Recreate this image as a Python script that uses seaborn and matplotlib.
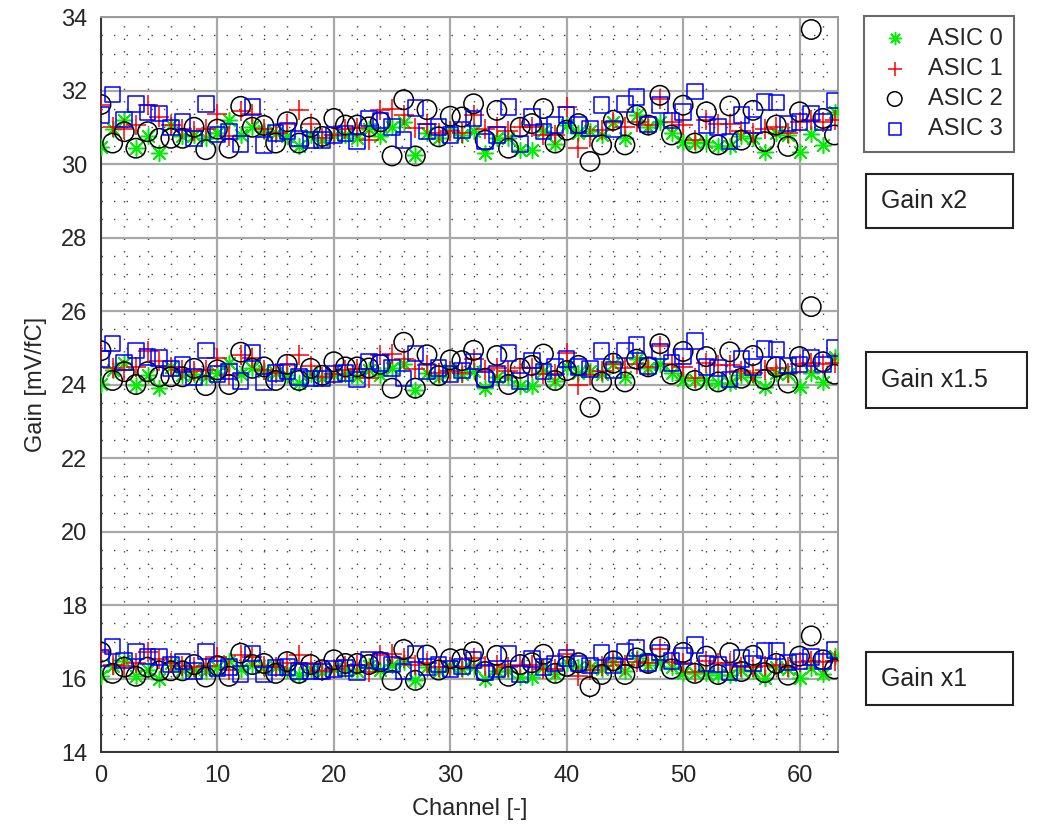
import matplotlib
matplotlib.use("Agg")
import numpy as np
import pandas as pd
import seaborn as sns
import matplotlib.pyplot as plt
from matplotlib.patches import Rectangle
from matplotlib.ticker import MultipleLocator

channels = list(range(64))
asic_names = ["ASIC 0", "ASIC 1", "ASIC 2", "ASIC 3"]
gain_labels = ["Gain x2", "Gain x1.5", "Gain x1"]

# ---- Gain x2 ----
x2_asic0 = [30.45, 30.95, 31.20, 30.43, 30.75, 30.30, 31.05, 30.75, 30.80, 30.70,
            30.85, 31.20, 30.80, 31.00, 30.90, 30.85, 30.75, 30.50, 30.80, 30.65,
            30.78, 30.80, 30.70, 30.95, 30.75, 31.00, 31.15, 30.25, 30.85, 30.70,
            30.95, 30.80, 30.90, 30.30, 30.70, 30.70, 30.39, 30.39, 30.90, 30.55,
            31.06, 30.85, 30.90, 30.80, 31.15, 30.70, 31.33, 31.00, 31.15, 30.85,
            30.60, 30.57, 30.60, 30.48, 30.48, 30.75, 30.70, 30.34, 30.85, 30.80,
            30.34, 30.83, 30.52, 31.42]
x2_asic1 = [31.60, 31.00, 30.95, 31.05, 31.60, 31.28, 31.06, 30.95, 30.90, 30.95,
            31.37, 30.75, 31.45, 31.37, 30.95, 30.85, 31.10, 31.46, 31.08, 30.70,
            30.80, 30.95, 30.97, 30.65, 31.46, 31.51, 31.33, 30.98, 31.10, 30.85,
            30.90, 30.85, 31.33, 30.95, 31.00, 30.90, 31.00, 31.00, 30.80, 30.80,
            31.55, 30.43, 30.75, 30.92, 31.15, 31.00, 31.15, 31.06, 31.78, 31.15,
            31.06, 30.65, 31.20, 31.10, 31.10, 30.90, 30.85, 30.95, 31.00, 30.85,
            31.15, 31.20, 31.15, 31.19]
x2_asic2 = [31.62, 30.57, 30.88, 30.43, 30.88, 30.70, 30.70, 30.70, 31.00, 30.39,
            30.95, 30.43, 31.57, 31.00, 31.05, 30.57, 31.15, 30.57, 31.00, 30.75,
            31.24, 31.06, 31.06, 31.01, 31.15, 30.22, 31.75, 30.22, 31.48, 30.74,
            31.30, 31.28, 31.64, 30.65, 31.46, 30.43, 31.00, 31.10, 31.51, 30.57,
            30.92, 31.10, 30.07, 30.52, 31.19, 30.52, 31.33, 31.06, 31.87, 30.79,
            31.60, 30.57, 31.42, 30.52, 31.58, 30.65, 31.46, 30.61, 31.06, 30.48,
            31.42, 33.66, 31.24, 30.79]
x2_asic3 = [31.33, 31.89, 31.21, 31.64, 31.40, 31.37, 31.00, 31.15, 30.70, 31.64,
            30.80, 30.88, 30.55, 31.55, 30.52, 30.85, 30.90, 30.70, 30.65, 30.65,
            30.79, 30.83, 30.61, 31.24, 31.19, 31.01, 30.65, 31.53, 30.88, 31.01,
            30.79, 30.92, 31.24, 30.61, 30.79, 31.55, 30.55, 31.28, 30.88, 31.06,
            31.33, 31.06, 30.97, 31.61, 30.95, 31.64, 31.82, 31.08, 31.60, 31.19,
            31.42, 31.97, 31.06, 31.01, 30.61, 31.33, 31.06, 31.69, 31.67, 31.10,
            31.15, 31.37, 31.15, 31.73]

# ---- Gain x1.5 ----
x15_asic0 = [24.02, 24.40, 24.59, 24.00, 24.25, 23.90, 24.48, 24.25, 24.28, 24.21,
             24.32, 24.59, 24.28, 24.44, 24.36, 24.32, 24.25, 24.05, 24.28, 24.17,
             24.27, 24.28, 24.21, 24.40, 24.25, 24.44, 24.55, 23.86, 24.32, 24.21,
             24.40, 24.28, 24.36, 23.90, 24.21, 24.21, 23.97, 23.97, 24.36, 24.09,
             24.48, 24.32, 24.36, 24.28, 24.55, 24.21, 24.69, 24.44, 24.55, 24.32,
             24.13, 24.11, 24.13, 24.04, 24.04, 24.25, 24.21, 23.93, 24.32, 24.28,
             23.93, 24.31, 24.07, 24.76]
x15_asic1 = [24.90, 24.44, 24.40, 24.48, 24.90, 24.65, 24.48, 24.40, 24.36, 24.40,
             24.72, 24.25, 24.79, 24.72, 24.40, 24.32, 24.52, 24.79, 24.50, 24.21,
             24.28, 24.40, 24.42, 24.17, 24.79, 24.83, 24.69, 24.42, 24.52, 24.32,
             24.36, 24.32, 24.69, 24.40, 24.44, 24.36, 24.44, 24.44, 24.28, 24.28,
             24.86, 24.00, 24.25, 24.38, 24.55, 24.44, 24.55, 24.48, 25.04, 24.55,
             24.48, 24.17, 24.59, 24.52, 24.52, 24.36, 24.32, 24.40, 24.44, 24.32,
             24.55, 24.59, 24.55, 24.58]
x15_asic2 = [24.92, 24.11, 24.35, 24.00, 24.35, 24.21, 24.21, 24.21, 24.44, 23.97,
             24.40, 24.00, 24.88, 24.44, 24.48, 24.11, 24.55, 24.11, 24.44, 24.25,
             24.62, 24.48, 24.48, 24.45, 24.55, 23.90, 25.15, 23.90, 24.81, 24.24,
             24.67, 24.65, 24.93, 24.17, 24.79, 24.00, 24.44, 24.52, 24.83, 24.11,
             24.38, 24.52, 23.38, 24.07, 24.58, 24.07, 24.69, 24.48, 25.11, 24.28,
             24.90, 24.11, 24.76, 24.07, 24.89, 24.17, 24.79, 24.14, 24.48, 24.04,
             24.76, 26.12, 24.62, 24.28]
x15_asic3 = [24.69, 25.12, 24.60, 24.93, 24.75, 24.72, 24.44, 24.55, 24.21, 24.93,
             24.28, 24.35, 24.09, 24.86, 24.07, 24.32, 24.36, 24.21, 24.17, 24.17,
             24.28, 24.31, 24.14, 24.62, 24.58, 24.45, 24.17, 24.85, 24.35, 24.45,
             24.28, 24.38, 24.62, 24.14, 24.28, 24.86, 24.09, 24.65, 24.35, 24.48,
             24.69, 24.48, 24.42, 24.91, 24.40, 24.93, 25.07, 24.50, 24.90, 24.58,
             24.76, 25.19, 24.48, 24.45, 24.14, 24.69, 24.48, 24.97, 24.95, 24.52,
             24.55, 24.72, 24.55, 25.00]

# ---- Gain x1 ----
x1_asic0 = [16.08, 16.35, 16.49, 16.06, 16.24, 15.99, 16.41, 16.24, 16.27, 16.21,
            16.30, 16.49, 16.27, 16.38, 16.32, 16.30, 16.24, 16.10, 16.27, 16.19,
            16.26, 16.27, 16.21, 16.35, 16.24, 16.38, 16.46, 15.97, 16.30, 16.21,
            16.35, 16.27, 16.32, 15.99, 16.21, 16.21, 16.04, 16.04, 16.32, 16.13,
            16.41, 16.30, 16.32, 16.27, 16.46, 16.21, 16.56, 16.38, 16.46, 16.30,
            16.16, 16.14, 16.16, 16.09, 16.09, 16.24, 16.21, 16.01, 16.30, 16.27,
            16.01, 16.28, 16.11, 16.61]
x1_asic1 = [16.71, 16.38, 16.35, 16.41, 16.71, 16.53, 16.41, 16.35, 16.32, 16.35,
            16.58, 16.24, 16.63, 16.58, 16.35, 16.30, 16.43, 16.63, 16.42, 16.21,
            16.27, 16.35, 16.36, 16.19, 16.63, 16.66, 16.56, 16.37, 16.43, 16.30,
            16.32, 16.30, 16.56, 16.35, 16.38, 16.32, 16.38, 16.38, 16.27, 16.27,
            16.68, 16.06, 16.24, 16.33, 16.46, 16.38, 16.46, 16.41, 16.81, 16.46,
            16.41, 16.19, 16.49, 16.43, 16.43, 16.32, 16.30, 16.35, 16.38, 16.30,
            16.46, 16.49, 16.46, 16.48]
x1_asic2 = [16.72, 16.14, 16.31, 16.06, 16.31, 16.21, 16.21, 16.21, 16.38, 16.04,
            16.35, 16.06, 16.69, 16.38, 16.41, 16.14, 16.46, 16.14, 16.38, 16.24,
            16.51, 16.41, 16.41, 16.38, 16.46, 15.95, 16.79, 15.95, 16.64, 16.23,
            16.54, 16.53, 16.73, 16.19, 16.63, 16.06, 16.38, 16.43, 16.66, 16.14,
            16.33, 16.43, 15.78, 16.11, 16.48, 16.11, 16.56, 16.41, 16.86, 16.26,
            16.71, 16.14, 16.61, 16.11, 16.70, 16.19, 16.63, 16.16, 16.41, 16.09,
            16.61, 17.16, 16.51, 16.26]
x1_asic3 = [16.56, 16.87, 16.49, 16.73, 16.60, 16.58, 16.38, 16.46, 16.21, 16.73,
            16.27, 16.31, 16.13, 16.68, 16.11, 16.30, 16.32, 16.21, 16.19, 16.19,
            16.26, 16.28, 16.16, 16.51, 16.48, 16.38, 16.19, 16.67, 16.31, 16.38,
            16.26, 16.33, 16.51, 16.16, 16.26, 16.68, 16.13, 16.53, 16.31, 16.41,
            16.56, 16.41, 16.36, 16.71, 16.35, 16.73, 16.83, 16.42, 16.71, 16.48,
            16.61, 16.91, 16.41, 16.38, 16.16, 16.56, 16.41, 16.76, 16.75, 16.43,
            16.46, 16.58, 16.46, 16.78]

series = {
    "ASIC 0": [x2_asic0, x15_asic0, x1_asic0],
    "ASIC 1": [x2_asic1, x15_asic1, x1_asic1],
    "ASIC 2": [x2_asic2, x15_asic2, x1_asic2],
    "ASIC 3": [x2_asic3, x15_asic3, x1_asic3],
}

rows = []
for asic, lists in series.items():
    for glabel, vals in zip(gain_labels, lists):
        for ch, v in zip(channels, vals):
            rows.append({"asic": asic, "setting": glabel, "channel": ch, "gain": v})
df = pd.DataFrame(rows)

sns.set_theme(style="white")
plt.rcParams["font.family"] = ["Liberation Sans", "DejaVu Sans"]

fig = plt.figure(figsize=(10.41, 8.34), dpi=100)
ax = fig.add_axes([0.097, 0.0983, 0.708, 0.8813])

styles = {
    "ASIC 0": dict(marker=(8, 2, 0), color="#00ee00", edgecolor="#00ee00", s=130, linewidth=1.1),
    "ASIC 1": dict(marker="+", color="#ff0000", edgecolor="#ff0000", s=190, linewidth=1.1),
    "ASIC 2": dict(marker="o", color="black", facecolor="none", edgecolor="black", s=195, linewidth=1.1),
    "ASIC 3": dict(marker="s", color="#0000ff", facecolor="none", edgecolor="#0000ff", s=125, linewidth=1.1),
}

for name in asic_names:
    sub = df[df["asic"] == name]
    sns.scatterplot(data=sub, x="channel", y="gain", ax=ax, label=name, zorder=3, **styles[name])

ax.set_xlim(0, 63.3)
ax.set_ylim(14, 34)
ax.xaxis.set_major_locator(MultipleLocator(10))
ax.yaxis.set_major_locator(MultipleLocator(2))
ax.xaxis.set_minor_locator(MultipleLocator(2))
ax.yaxis.set_minor_locator(MultipleLocator(0.5))
ax.set_axisbelow(True)
ax.grid(which="major", color="#a8a8a8", linewidth=1.6, linestyle="-")
ax.grid(which="minor", color="#444444", linewidth=1.0, linestyle=(0, (1, 8)))
ax.tick_params(axis="y", which="major", labelsize=17, colors="#262626",
               direction="in", length=5, width=1.2, pad=10)
ax.tick_params(axis="x", which="major", labelsize=17, colors="#262626",
               direction="in", length=5, width=1.2, pad=9)
ax.tick_params(axis="both", which="minor", length=0)
for sp in ax.spines.values():
    sp.set_color("#333333")
    sp.set_linewidth(1.4)
ax.spines["right"].set_color("#999999")
ax.spines["top"].set_color("#999999")

ax.set_xlabel("Channel [-]", fontsize=17, color="#262626", labelpad=8)
ax.set_ylabel("Gain [mV/fC]", fontsize=17, color="#262626", labelpad=10)

leg = ax.legend(loc="upper left", bbox_to_anchor=(0.830, 0.981), bbox_transform=fig.transFigure,
                borderaxespad=0, fontsize=17, frameon=True, fancybox=False,
                handletextpad=0.6, borderpad=0.5, labelspacing=0.35, handlelength=1.6,
                markerscale=0.75)
leg.get_frame().set_edgecolor("#444444")
leg.get_frame().set_linewidth(1.5)
for t in leg.get_texts():
    t.set_color("#262626")

boxes = [
    ("Gain x2", 866, 174, 1013, 228),
    ("Gain x1.5", 866, 352, 1027, 408),
    ("Gain x1", 866, 652, 1013, 705),
]
W, H = 1041.0, 834.0
for txt, x0, y0, x1, y1 in boxes:
    rect = Rectangle((x0 / W, 1 - y1 / H), (x1 - x0) / W, (y1 - y0) / H,
                     transform=fig.transFigure, facecolor="white", edgecolor="#222222",
                     linewidth=1.5)
    fig.add_artist(rect)
    fig.text((x0 + 15) / W, 1 - ((y0 + y1) / 2) / H, txt, fontsize=18,
             ha="left", va="center", color="#222222")

fig.savefig("out.png", dpi=100)
